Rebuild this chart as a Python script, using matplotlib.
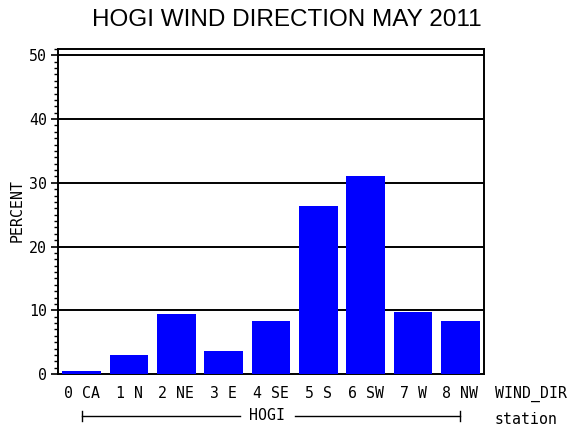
import matplotlib
matplotlib.use("Agg")
import matplotlib.pyplot as plt
from matplotlib.ticker import MultipleLocator
import matplotlib.transforms as mtransforms

categories = ["0 CA", "1 N", "2 NE", "3 E", "4 SE", "5 S", "6 SW", "7 W", "8 NW"]
percent = [0.5, 3.0, 9.4, 3.6, 8.3, 26.4, 31.0, 9.75, 8.3]
yticks = [0, 10, 20, 30, 40, 50]
group_label = "HOGI"

mono = "DejaVu Sans Mono"
fs = 10.7

fig = plt.figure(figsize=(5.7, 4.3), dpi=100)
ax = fig.add_axes([58/570, 1-374/430, (484-58)/570, (374-49)/430])

x = list(range(len(categories)))
ax.bar(x, percent, width=0.82, color="#0000FF", zorder=3)

ax.set_xlim(-0.5, len(categories) - 0.5)
ax.set_ylim(0, 51)
ax.set_yticks(yticks)
ax.set_yticklabels([str(v) for v in yticks], fontfamily=mono, fontsize=fs)
ax.yaxis.set_minor_locator(MultipleLocator(1))
ax.tick_params(axis="y", which="major", length=5, width=1.2, direction="out", pad=3)
ax.tick_params(axis="y", which="minor", length=3, width=1.0, direction="out")

ax.set_xticks(x)
ax.set_xticklabels(categories, fontfamily=mono, fontsize=fs)
ax.tick_params(axis="x", length=0, pad=9)

for v in yticks[1:]:
    ax.axhline(v, color="black", linewidth=1.4, zorder=2)

for s in ax.spines.values():
    s.set_linewidth(1.4)
    s.set_color("black")

fig.text(17/570, 1-211/430, "PERCENT", fontfamily=mono, fontsize=fs,
         rotation=90, ha="center", va="center")

fig.text(495/570, 1-394/430, "WIND_DIR", fontfamily=mono, fontsize=fs,
         ha="left", va="center")
fig.text(495/570, 1-419/430, "station", fontfamily=mono, fontsize=fs,
         ha="left", va="center")

trans = mtransforms.blended_transform_factory(ax.transData, ax.transAxes)
yline = (374-416)/325
gap_l, gap_r = 3.34, 4.51
ax.plot([x[0], gap_l], [yline, yline], color="black", linewidth=1.0,
        transform=trans, clip_on=False)
ax.plot([gap_r, x[-1]], [yline, yline], color="black", linewidth=1.0,
        transform=trans, clip_on=False)
for xe in (x[0], x[-1]):
    ax.plot([xe, xe], [yline - 5/325, yline + 5/325], color="black",
            linewidth=1.0, transform=trans, clip_on=False)
ax.text((gap_l + gap_r) / 2, yline, group_label, transform=trans,
        fontfamily=mono, fontsize=fs, ha="center", va="center")

fig.text(0.503, 1-20/430, "HOGI WIND DIRECTION MAY 2011",
         fontfamily="Liberation Sans", fontsize=17.5, ha="center", va="center")

fig.savefig("out.png", dpi=100)
